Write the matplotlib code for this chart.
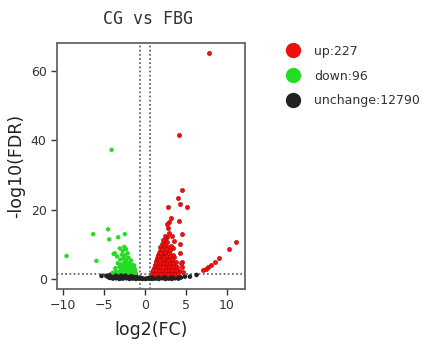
import matplotlib
matplotlib.use("Agg")
import matplotlib.pyplot as plt
from matplotlib.lines import Line2D

title = "CG vs FBG"
labels = ["up:227", "down:96", "unchange:12790"]
fc_cut = 0.585
fdr_cut = 1.3

# up-regulated genes (log2FC, -log10 FDR)
up_x = [7.84, 4.18, 4.47, 4.07, 4.27, 5.16, 2.77, 3.13, 2.9, 4.15, 4.47, 4.27, 4.47, 2.64, 2.84,
        2.4, 2.64, 4.5, 4.3,
        10.2, 11.1, 9.0, 8.54, 8.05, 7.72, 7.4, 7.1,
        1.0, 1.35, 1.8, 2.15, 2.6, 3.05, 3.4, 3.85, 4.2, 4.6,
        1.1, 1.5, 1.95, 2.3, 2.7, 3.1, 3.5, 3.9,
        1.2, 1.6, 2.05, 2.45, 2.85, 3.2, 3.65, 4.4,
        1.3, 1.75, 2.1, 2.5, 2.95, 3.3, 3.75,
        1.45, 1.9, 2.3, 2.75, 3.15, 3.55,
        1.6, 2.0, 2.45, 2.8, 3.4,
        1.8, 2.2, 2.6, 3.0, 3.45,
        1.9, 2.35, 2.8, 3.2,
        2.05, 2.5, 3.6,
        2.2, 2.65, 3.3,
        2.4, 3.0,
        0.9, 1.2, 1.55, 2.0, 2.4, 2.85, 3.25, 3.7, 4.0,
        1.05, 1.4, 1.75, 2.2, 2.55, 2.95, 3.35, 3.75,
        1.25, 1.55, 1.85, 2.25, 2.65, 3.0, 3.45,
        1.4, 1.7, 2.0, 2.35, 2.7, 3.05, 3.4,
        1.55, 1.8, 2.15, 2.55, 2.95, 3.25,
        1.7, 2.1, 2.35, 2.7, 3.1,
        1.75, 2.0, 2.4, 2.9,
        2.1, 2.55, 3.1]
up_y = [65.0, 41.6, 25.6, 23.3, 21.6, 20.8, 20.8, 17.5, 16.5, 16.8, 12.9, 10.0, 5.0, 15.8, 14.6,
        11.2, 12.0, 3.5, 7.5,
        8.6, 10.5, 5.9, 5.0, 4.0, 3.5, 3.0, 2.6,
        1.9, 2.2, 1.8, 2.1, 1.9, 2.3, 1.8, 2.0, 2.2, 1.9,
        3.1, 2.9, 3.3, 2.8, 3.2, 3.0, 2.9, 3.4,
        4.0, 4.3, 3.9, 4.4, 4.1, 4.2, 3.8, 4.6,
        5.2, 4.9, 5.4, 5.0, 5.3, 5.1, 4.8,
        6.1, 5.8, 6.3, 6.0, 5.9, 6.4,
        6.9, 7.2, 7.0, 7.4, 6.8,
        8.1, 7.8, 8.3, 8.0, 9.0,
        9.1, 8.8, 9.3, 9.6,
        10.2, 10.0, 11.0,
        11.1, 10.7, 12.3,
        12.4, 13.2,
        1.6, 1.5, 1.7, 1.5, 1.6, 1.5, 1.6, 1.5, 1.6,
        2.6, 2.5, 2.7, 2.5, 2.6, 2.7, 2.5, 2.6,
        3.6, 3.5, 3.7, 3.5, 3.6, 3.7, 3.5,
        4.6, 4.5, 4.7, 4.6, 4.5, 4.7, 4.5,
        5.6, 5.5, 5.7, 5.6, 5.5, 5.7,
        6.5, 6.6, 6.4, 6.6, 6.5,
        7.5, 7.6, 7.7, 7.6,
        8.5, 8.6, 8.4]

# down-regulated genes
down_x = [-4.06, -9.55, -6.3, -4.48, -4.35, -3.26, -2.44, -5.9, -3.66, -3.05,
          -3.9, -3.5, -3.2, -2.9, -2.6, -2.3, -2.0, -1.7, -1.4, -1.1,
          -3.6, -3.1, -2.7, -2.4, -2.1, -1.8, -1.5, -1.2,
          -3.3, -2.9, -2.5, -2.2, -1.9, -1.6, -1.3,
          -3.0, -2.6, -2.3, -2.0, -1.7,
          -3.4, -2.8, -2.4, -2.1, -2.7, -2.3, -2.5, -3.8,
          -2.75, -2.45, -2.15, -1.85, -1.55, -1.25, -2.55, -2.05, -1.75, -1.45]
down_y = [37.2, 6.6, 12.9, 14.3, 11.4, 12.0, 12.9, 5.2, 7.4, 8.8,
          1.8, 2.2, 1.9, 2.5, 2.0, 2.3, 1.8, 2.1, 1.9, 1.7,
          3.1, 3.4, 3.0, 3.6, 3.2, 3.5, 3.0, 2.8,
          4.5, 4.2, 4.8, 4.3, 4.6, 4.1, 3.9,
          5.6, 5.9, 5.4, 6.1, 5.3,
          6.5, 7.0, 6.8, 7.4, 8.1, 8.6, 9.2, 7.2,
          2.7, 2.6, 2.8, 2.6, 2.5, 2.3, 4.0, 3.9, 4.3, 3.6]

# unchanged genes
none_x = [-5.28, 4.88, 5.49, 6.3,
          -4.7, -4.3, -3.9, -3.5, -3.1, -2.7, -2.3, -1.9, -1.5, -1.1, -0.7, -0.3, 0.1, 0.5, 0.9,
          1.3, 1.7, 2.1, 2.5, 2.9, 3.3, 3.7, 4.1, 4.4,
          -4.5, -4.1, -3.7, -3.3, -2.9, -2.5, -2.1, -1.7, -1.3, -0.9, 0.9, 1.2, 1.5, 1.9, 2.3,
          2.7, 3.1, 3.5, 3.9, 4.2,
          -4.2, -3.8, -3.4, -3.0, -2.6, -2.2, -1.8, -1.4, -1.1, 1.1, 1.4, 1.8, 2.2, 2.6, 3.0,
          3.4, 3.8,
          -0.5, -0.2, 0.2, 0.5,
          -4.0, -3.6, -3.2, -2.8, -2.4, -2.0, -1.6, -1.2, -0.8, 0.7, 1.05, 1.6, 2.0, 2.4, 2.8,
          3.2, 3.6, 4.0]
none_y = [0.86, 0.67, 0.67, 1.15,
          0.9, 0.3, 0.1, 0.2, 0.0, 0.1, 0.2, 0.0, 0.1, 0.0, 0.1, 0.0, 0.0, 0.1, 0.0,
          0.1, 0.0, 0.2, 0.0, 0.1, 0.0, 0.2, 0.1, 0.4,
          0.6, 0.7, 0.6, 0.7, 0.6, 0.7, 0.6, 0.7, 0.6, 0.4, 0.5, 0.6, 0.7, 0.6, 0.7,
          0.6, 0.7, 0.6, 0.7, 0.6,
          1.2, 1.1, 1.3, 1.2, 1.1, 1.3, 1.2, 1.2, 0.9, 1.0, 1.2, 1.3, 1.2, 1.1, 1.3,
          1.2, 1.1,
          0.3, 0.1, 0.1, 0.3,
          0.4, 0.35, 0.4, 0.3, 0.35, 0.4, 0.35, 0.3, 0.2, 0.2, 0.3, 0.35, 0.4, 0.3, 0.35,
          0.4, 0.35, 0.3]

red = "#f01010"
green = "#22dd22"
black = "#222222"

fig = plt.figure(figsize=(4.39, 3.52), dpi=100)
ax = fig.add_axes([0.130, 0.179, 0.428, 0.699])

ax.scatter(none_x, none_y, s=11, color=black, edgecolors="none", zorder=2)
ax.scatter(down_x, down_y, s=10, color=green, edgecolors="none", zorder=3)
ax.scatter(up_x, up_y, s=10, color=red, edgecolors="#a00000", linewidths=0.3, zorder=3)

ax.axvline(-fc_cut, color="#555555", ls=(0, (1, 1.5)), lw=1.2, zorder=1)
ax.axvline(fc_cut, color="#555555", ls=(0, (1, 1.5)), lw=1.2, zorder=1)
ax.axhline(fdr_cut, color="#555555", ls=(0, (1, 1.5)), lw=1.2, zorder=1)

ax.set_xlim(-10.7, 12.2)
ax.set_ylim(-2.9, 68)
ax.set_xticks([-10, -5, 0, 5, 10])
ax.set_yticks([0, 20, 40, 60])
ax.tick_params(labelsize=9, colors="#333333", length=4, width=1, direction="out")
for s in ax.spines.values():
    s.set_color("#666666")
    s.set_linewidth(1.3)

ax.set_xlabel("log2(FC)", fontsize=12.5, color="#222222", labelpad=6)
ax.set_ylabel("-log10(FDR)", fontsize=12.5, color="#222222", labelpad=4)

fig.text(0.337, 0.946, title, family="DejaVu Sans Mono", fontsize=12,
         color="#333333", ha="center", va="center")

handles = [Line2D([], [], ls="", marker="o", ms=10, color=c) for c in (red, green, black)]
fig.legend(handles, labels, loc="upper left", bbox_to_anchor=(0.625, 0.905),
           frameon=False, fontsize=9, labelspacing=0.95, handletextpad=1.1,
           handlelength=1.2, labelcolor="#333333")

fig.savefig("out.png", dpi=100)
